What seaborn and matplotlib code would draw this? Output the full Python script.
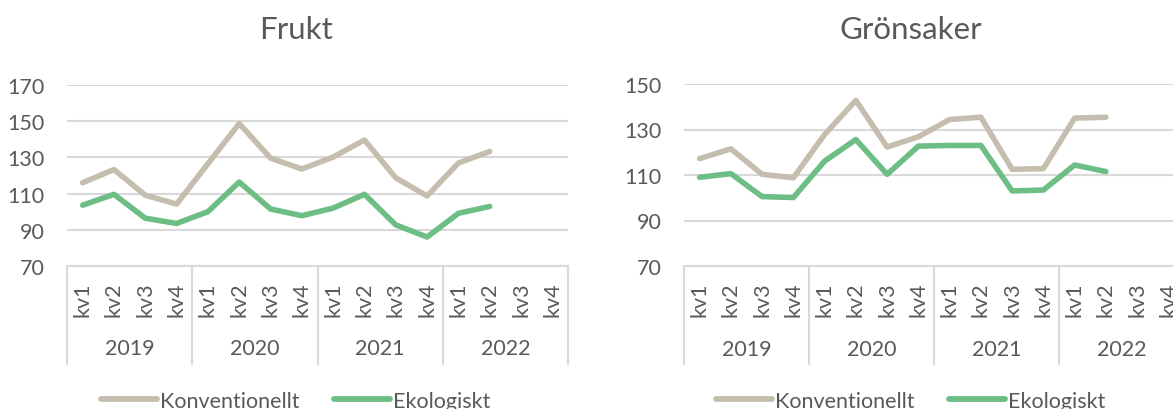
import numpy as np
import pandas as pd
import matplotlib
matplotlib.use("Agg")
import matplotlib.pyplot as plt
import matplotlib.transforms as mtransforms
import seaborn as sns

# data
years = ["2019", "2020", "2021", "2022"]
quarters = ["kv1", "kv2", "kv3", "kv4"]
series_names = ["Konventionellt", "Ekologiskt"]

frukt_konv = [116, 123.3, 109.1, 104.2, 126.5, 148.7, 129.6, 123.6,
              130.2, 139.6, 118.7, 108.7, 126.9, 133.3]
frukt_eko = [103.6, 109.6, 96.4, 93.5, 100, 116.4, 101.5, 97.8,
             102, 109.6, 92.7, 86, 99.1, 102.9]
gron_konv = [117.2, 121.5, 110.3, 108.8, 127.8, 142.8, 122.3, 126.8,
             134.4, 135.4, 112.5, 112.8, 135, 135.4]
gron_eko = [109, 110.6, 100.5, 100.1, 116.1, 125.6, 110.3, 122.7,
            123, 123, 103, 103.4, 114.4, 111.5]

colors = {"Konventionellt": "#C5BEAF", "Ekologiskt": "#6DBE85"}
text_col = "#595959"
grid_col = "#D9D9D9"

sns.set_theme(style="white")
plt.rcParams['font.family'] = ['Lato', 'DejaVu Sans']

W, H = 1173, 410
fig = plt.figure(figsize=(W / 100, H / 100), dpi=100)


def make_df(konv, eko):
    rows = []
    for name, vals in zip(series_names, [konv, eko]):
        for i, v in enumerate(vals):
            rows.append({"pos": i, "value": v, "serie": name})
    return pd.DataFrame(rows)


def draw(ax, df, ymax, title, title_x):
    sns.lineplot(data=df, x="pos", y="value", hue="serie", palette=colors,
                 linewidth=4.0, ax=ax, legend=True,
                 solid_capstyle="round", solid_joinstyle="round")
    handles, labels = ax.get_legend_handles_labels()
    ax.get_legend().remove()

    ax.set_xlim(-0.5, 15.5)
    ax.set_ylim(70, ymax)
    ax.set_yticks(np.arange(70, ymax + 1, 20))
    ax.yaxis.grid(True, color=grid_col, linewidth=1.5)
    ax.set_axisbelow(True)
    for s in ["top", "right", "left"]:
        ax.spines[s].set_visible(False)
    ax.spines["bottom"].set_color(grid_col)
    ax.spines["bottom"].set_linewidth(1.5)

    ax.set_xticks(range(16))
    ax.set_xticklabels(quarters * 4, rotation=90, va="top", ha="center")
    ax.tick_params(axis="x", length=0, pad=11, labelsize=15.5, labelcolor=text_col)
    ax.tick_params(axis="y", length=0, pad=16, labelsize=15.5, labelcolor=text_col)
    ax.set_xlabel("")
    ax.set_ylabel("")

    trans = mtransforms.blended_transform_factory(ax.transData, ax.transAxes)
    for xb in [-0.5, 3.5, 7.5, 11.5, 15.5]:
        ax.plot([xb, xb], [0, -0.54], color=grid_col, linewidth=1.5,
                transform=trans, clip_on=False)
    for i, y in enumerate(years):
        ax.text(i * 4 + 1.5, -0.455, y, transform=trans, ha="center", va="center",
                fontsize=15.5, color=text_col)

    fig.text(title_x / W, 1 - 30 / H, title, ha="center", va="center",
             fontsize=22.5, color=text_col)

    leg = ax.legend(handles, labels, ncol=2, frameon=False,
                    loc="center", bbox_to_anchor=(title_x / W, 1 - 402 / H),
                    bbox_transform=fig.transFigure,
                    handlelength=2.6, handletextpad=0.15, columnspacing=1.6,
                    fontsize=15.5)
    for t in leg.get_texts():
        t.set_color(text_col)
    for l in leg.get_lines():
        l.set_linewidth(4.2)
        l.set_solid_capstyle("round")


ax1 = fig.add_axes([67 / W, (H - 267) / H, 501 / W, (267 - 86) / H])
draw(ax1, make_df(frukt_konv, frukt_eko), 170, "Frukt", 296)

ax2 = fig.add_axes([684 / W, (H - 267) / H, 500 / W, (267 - 85) / H])
draw(ax2, make_df(gron_konv, gron_eko), 150, "Grönsaker", 911)

fig.savefig("out.png", dpi=100)
